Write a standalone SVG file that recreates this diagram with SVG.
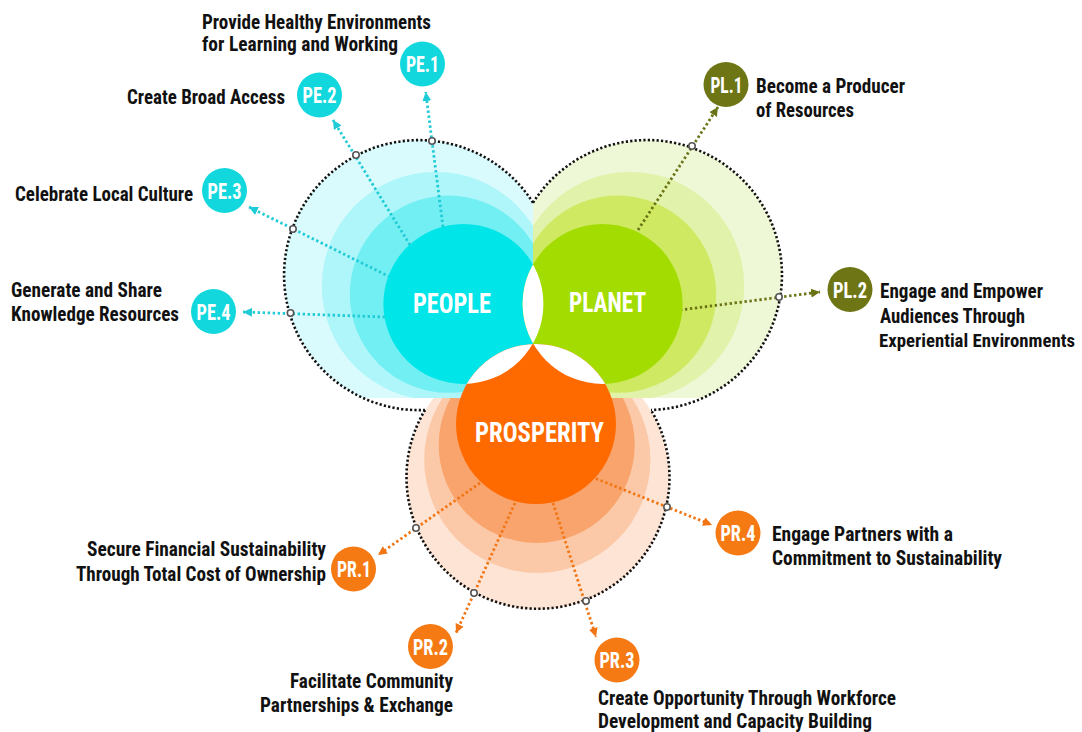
<svg xmlns="http://www.w3.org/2000/svg" width="1082" height="732" viewBox="0 0 1082 732">
<style>
.lbl{font-family:"Liberation Sans Narrow","Roboto Condensed","DejaVu Sans Condensed","Liberation Sans",sans-serif;font-weight:bold;font-size:20px;fill:#111}
.bt{font-family:"Liberation Sans Narrow","Roboto Condensed","DejaVu Sans Condensed","Liberation Sans",sans-serif;font-weight:bold;font-size:22px;fill:#fff;text-anchor:middle}
.ct{font-family:"Liberation Sans Narrow","Roboto Condensed","DejaVu Sans Condensed","Liberation Sans",sans-serif;font-weight:bold;font-size:28px;fill:#fff;text-anchor:middle}
.outline{fill:none;stroke:#111;stroke-width:2.6;stroke-dasharray:2.2 2.2}
.cn{fill:none;stroke-width:2.8;stroke-dasharray:2.4 2.6}
.cy{stroke:#1fcbd6}
.ol{stroke:#6b7414}
.or{stroke:#f27514}
.pt{fill:#fff;stroke:#555;stroke-width:1.6}
.bcy{fill:#12d8dd}
.bol{fill:#6e7514}
.bor{fill:#f57a14}
</style>
<defs>
<clipPath id="clipPeople"><rect x="0" y="0" width="533" height="398"/></clipPath>
<clipPath id="clipPlanet"><rect x="533" y="0" width="549" height="398"/></clipPath>
<clipPath id="clipProsp"><rect x="0" y="398" width="1082" height="334"/></clipPath>
<clipPath id="inPeople"><circle cx="463.4" cy="303.9" r="80"/></clipPath>
<clipPath id="inPlanet"><circle cx="602.6" cy="303.9" r="80"/></clipPath>
<marker id="aCy" markerUnits="userSpaceOnUse" markerWidth="9" markerHeight="9" refX="9" refY="4.5" orient="auto"><path d="M0,0 L9,4.5 L0,9 z" fill="#1fcbd6"/></marker>
<marker id="aOl" markerUnits="userSpaceOnUse" markerWidth="9" markerHeight="9" refX="9" refY="4.5" orient="auto"><path d="M0,0 L9,4.5 L0,9 z" fill="#6b7414"/></marker>
<marker id="aOr" markerUnits="userSpaceOnUse" markerWidth="9" markerHeight="9" refX="9" refY="4.5" orient="auto"><path d="M0,0 L9,4.5 L0,9 z" fill="#f27514"/></marker>
</defs>
<rect width="1082" height="732" fill="#fff"/>

<g id="rings">
<g id="ringsProsperity" clip-path="url(#clipProsp)">
<circle cx="538" cy="478" r="131.5" fill="#fde4d4"/>
<circle cx="537.3" cy="459.8" r="113.1" fill="#fbc9a8"/>
<circle cx="536.7" cy="444.9" r="98" fill="#f8a46c"/>
</g>
<g id="ringsPeople" clip-path="url(#clipPeople)">
<circle cx="419" cy="275" r="135" fill="#dafbfd"/>
<circle cx="435.9" cy="286" r="114.1" fill="#aef6f9"/>
<circle cx="448.4" cy="294.2" r="98.6" fill="#72eff3"/>
</g>
<g id="ringsPlanet" clip-path="url(#clipPlanet)">
<circle cx="647" cy="275" r="135" fill="#eef8d7"/>
<circle cx="630.1" cy="286" r="114.1" fill="#e1f2aa"/>
<circle cx="617.6" cy="294.2" r="98.6" fill="#cfea62"/>
</g>
<path class="outline" d="M533,202.7 A135,135 0 1 0 425,410"/>
<path class="outline" d="M533,202.7 A135,135 0 1 1 651,410"/>
<path class="outline" d="M425,410 A131.5,131.5 0 1 0 651,410"/>
</g>

<g id="connectors">
<path class="cn cy" d="M443,227 L425.7,92" marker-end="url(#aCy)"/>
<path class="cn cy" d="M410,245 L333,120" marker-end="url(#aCy)"/>
<path class="cn cy" d="M390,277 L249,207" marker-end="url(#aCy)"/>
<path class="cn cy" d="M385,317 L243,312" marker-end="url(#aCy)"/>
<path class="cn ol" d="M638,230 L718,107" marker-end="url(#aOl)"/>
<path class="cn ol" d="M680,310 L820,292" marker-end="url(#aOl)"/>
<path class="cn or" d="M480,483 L378,555" marker-end="url(#aOr)"/>
<path class="cn or" d="M515,503 L456,633" marker-end="url(#aOr)"/>
<path class="cn or" d="M553,503 L596,637" marker-end="url(#aOr)"/>
<path class="cn or" d="M582,473 L712,525" marker-end="url(#aOr)"/>
<circle class="pt" cx="432" cy="141" r="3.2"/>
<circle class="pt" cx="356" cy="155" r="3.2"/>
<circle class="pt" cx="293" cy="229" r="3.2"/>
<circle class="pt" cx="290.5" cy="313" r="3.2"/>
<circle class="pt" cx="692" cy="146" r="3.2"/>
<circle class="pt" cx="779" cy="297" r="3.2"/>
<circle class="pt" cx="416" cy="528" r="3.2"/>
<circle class="pt" cx="474" cy="593" r="3.2"/>
<circle class="pt" cx="586" cy="601" r="3.2"/>
<circle class="pt" cx="667" cy="507" r="3.2"/>
</g>

<g id="people">
<circle cx="463.4" cy="303.9" r="80" fill="#00e5e8"/>
<text class="ct" x="452" y="313" textLength="78" lengthAdjust="spacingAndGlyphs">PEOPLE</text>
</g>
<g id="planet">
<circle cx="602.6" cy="303.9" r="80" fill="#a3dc00"/>
<text class="ct" x="607.5" y="312" textLength="77" lengthAdjust="spacingAndGlyphs">PLANET</text>
</g>
<g id="prosperity">
<circle cx="536" cy="424" r="80" fill="#ff6a00"/>
<text class="ct" x="539.5" y="442" textLength="129" lengthAdjust="spacingAndGlyphs">PROSPERITY</text>
</g>
<g id="lenses" fill="#fff">
<circle cx="463.4" cy="303.9" r="80" clip-path="url(#inPlanet)"/>
<circle cx="536" cy="424" r="80" clip-path="url(#inPeople)"/>
<circle cx="536" cy="424" r="80" clip-path="url(#inPlanet)"/>
</g>

<g id="pe1">
<circle class="bcy" cx="422.5" cy="64" r="22.5"/>
<text class="bt" x="422.5" y="72" textLength="33" lengthAdjust="spacingAndGlyphs">PE.1</text>
<text class="lbl" x="202" y="29" textLength="229" lengthAdjust="spacingAndGlyphs">Provide Healthy Environments</text>
<text class="lbl" x="202" y="51" textLength="196" lengthAdjust="spacingAndGlyphs">for Learning and Working</text>
</g>
<g id="pe2">
<circle class="bcy" cx="319.5" cy="95" r="22.5"/>
<text class="bt" x="319.5" y="103" textLength="34" lengthAdjust="spacingAndGlyphs">PE.2</text>
<text class="lbl" x="127" y="104" textLength="158" lengthAdjust="spacingAndGlyphs">Create Broad Access</text>
</g>
<g id="pe3">
<circle class="bcy" cx="224.5" cy="190.5" r="22.5"/>
<text class="bt" x="224.5" y="198.5" textLength="34" lengthAdjust="spacingAndGlyphs">PE.3</text>
<text class="lbl" x="15" y="200.5" textLength="178" lengthAdjust="spacingAndGlyphs">Celebrate Local Culture</text>
</g>
<g id="pe4">
<circle class="bcy" cx="213.5" cy="311.5" r="22.5"/>
<text class="bt" x="213.5" y="319.5" textLength="34" lengthAdjust="spacingAndGlyphs">PE.4</text>
<text class="lbl" x="11" y="297" textLength="151" lengthAdjust="spacingAndGlyphs">Generate and Share</text>
<text class="lbl" x="11" y="321" textLength="168" lengthAdjust="spacingAndGlyphs">Knowledge Resources</text>
</g>
<g id="pl1">
<circle class="bol" cx="726" cy="84.5" r="22.5"/>
<text class="bt" x="726.5" y="92.5" textLength="32" lengthAdjust="spacingAndGlyphs">PL.1</text>
<text class="lbl" x="756" y="93" textLength="149" lengthAdjust="spacingAndGlyphs">Become a Producer</text>
<text class="lbl" x="756" y="117" textLength="98" lengthAdjust="spacingAndGlyphs">of Resources</text>
</g>
<g id="pl2">
<circle class="bol" cx="850" cy="289.5" r="22.5"/>
<text class="bt" x="850" y="297.5" textLength="34" lengthAdjust="spacingAndGlyphs">PL.2</text>
<text class="lbl" x="880" y="298" textLength="163" lengthAdjust="spacingAndGlyphs">Engage and Empower</text>
<text class="lbl" x="880" y="323" textLength="145" lengthAdjust="spacingAndGlyphs">Audiences Through</text>
<text class="lbl" x="879" y="347" style="font-size:18.5px" textLength="196" lengthAdjust="spacingAndGlyphs">Experiential Environments</text>
</g>
<g id="pr1">
<circle class="bor" cx="353.5" cy="569" r="22.5"/>
<text class="bt" x="354" y="577" textLength="34" lengthAdjust="spacingAndGlyphs">PR.1</text>
<text class="lbl" x="326" y="556" text-anchor="end" textLength="239" lengthAdjust="spacingAndGlyphs">Secure Financial Sustainability</text>
<text class="lbl" x="326" y="581" text-anchor="end" textLength="250" lengthAdjust="spacingAndGlyphs">Through Total Cost of Ownership</text>
</g>
<g id="pr2">
<circle class="bor" cx="430.5" cy="646.5" r="22.5"/>
<text class="bt" x="430.5" y="654.5" textLength="35" lengthAdjust="spacingAndGlyphs">PR.2</text>
<text class="lbl" x="453" y="688" text-anchor="end" textLength="163" lengthAdjust="spacingAndGlyphs">Facilitate Community</text>
<text class="lbl" x="453" y="712" text-anchor="end" textLength="193" lengthAdjust="spacingAndGlyphs">Partnerships &amp; Exchange</text>
</g>
<g id="pr3">
<circle class="bor" cx="617" cy="660" r="22.5"/>
<text class="bt" x="617" y="668" textLength="35" lengthAdjust="spacingAndGlyphs">PR.3</text>
<text class="lbl" x="598" y="705" textLength="298" lengthAdjust="spacingAndGlyphs">Create Opportunity Through Workforce</text>
<text class="lbl" x="598" y="728" textLength="274" lengthAdjust="spacingAndGlyphs">Development and Capacity Building</text>
</g>
<g id="pr4">
<circle class="bor" cx="738" cy="533" r="22.5"/>
<text class="bt" x="738" y="541" textLength="35" lengthAdjust="spacingAndGlyphs">PR.4</text>
<text class="lbl" x="772" y="541" textLength="181" lengthAdjust="spacingAndGlyphs">Engage Partners with a</text>
<text class="lbl" x="772" y="565" textLength="230" lengthAdjust="spacingAndGlyphs">Commitment to Sustainability</text>
</g>
</svg>
